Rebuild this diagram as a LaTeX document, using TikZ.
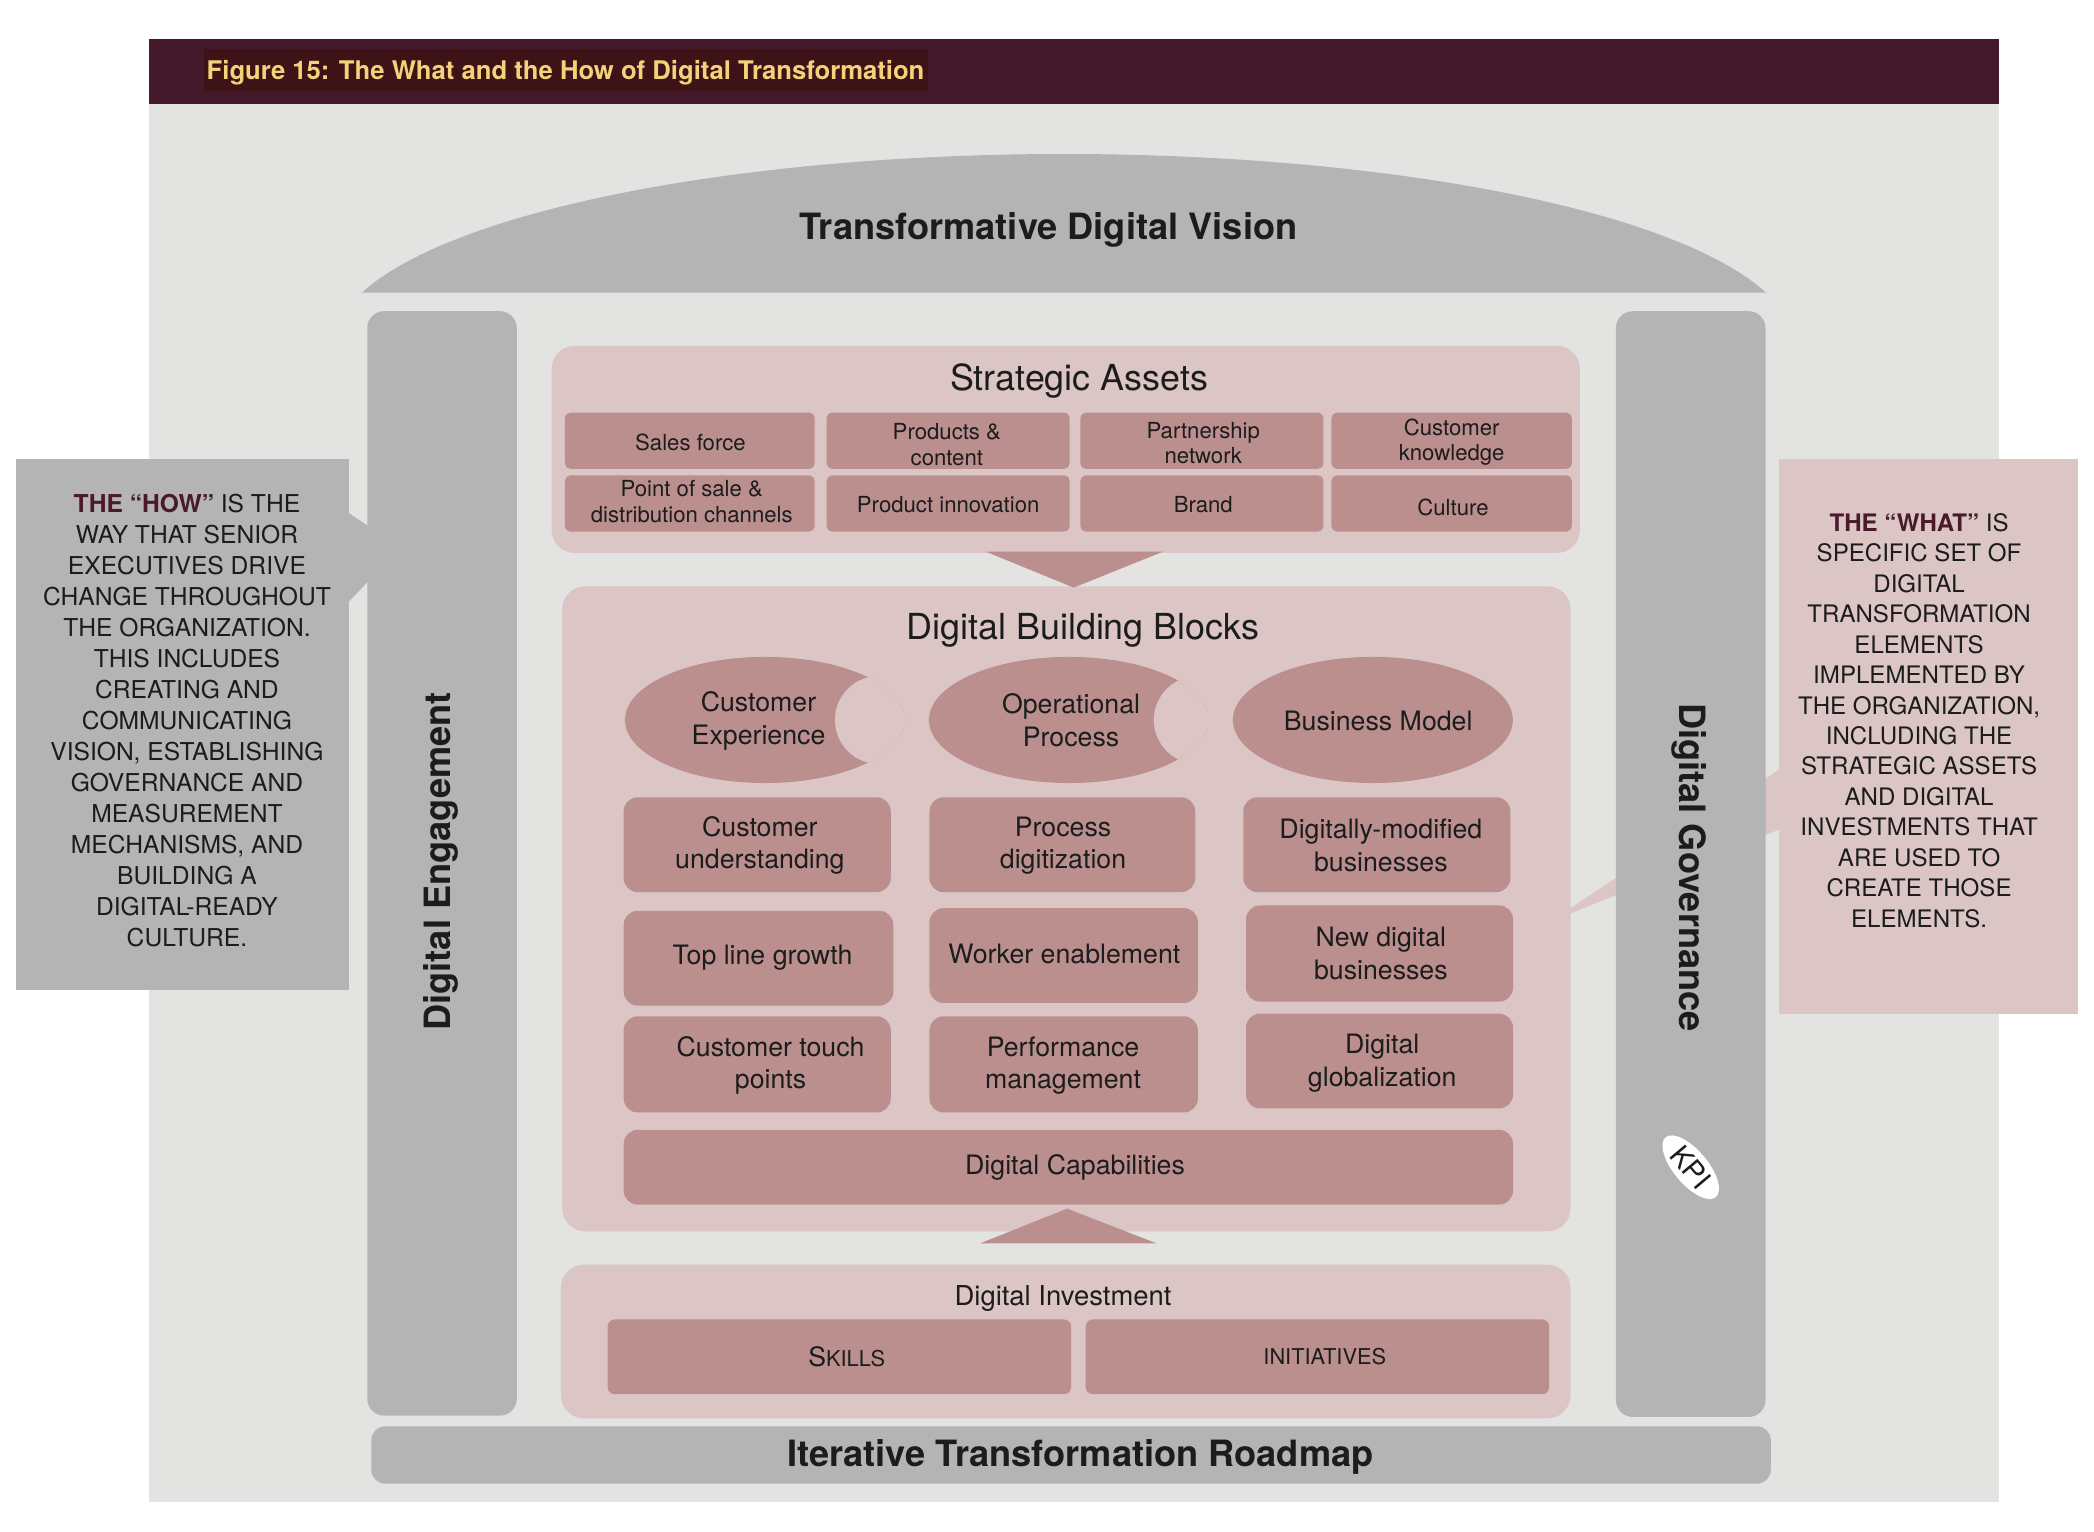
\documentclass[tikz,border=0pt]{standalone}
\usepackage{fontspec}
\setmainfont{TeX Gyre Heros}
\usetikzlibrary{shapes.geometric,fit}
\definecolor{barbg}{HTML}{43192B}
\definecolor{titlehl}{HTML}{3E1318}
\definecolor{gold}{HTML}{F5D27A}
\definecolor{panel}{HTML}{E3E3E2}
\definecolor{gbar}{HTML}{B4B4B4}
\definecolor{pinkl}{HTML}{DBC6C5}
\definecolor{rose}{HTML}{BA8F8E}
\definecolor{ink}{HTML}{1C1C1C}
\definecolor{wine}{HTML}{4A1A2C}
\begin{document}
\begin{tikzpicture}[x=0.013355cm,y=-0.013355cm,
  container/.style={fill=pinkl, rounded corners=6.5pt, inner sep=0pt},
  graybar/.style={fill=gbar, rounded corners=4.8pt, inner sep=0pt},
  rosebox/.style={fill=rose, rounded corners=4pt, inner sep=0pt},
  assetbox/.style={fill=rose, rounded corners=1.5pt, inner sep=0pt},
  rosetext/.style={align=center, text=ink, inner sep=0pt, font=\fontsize{7.6}{9.2}\selectfont},
  assettext/.style={align=center, text=ink, inner sep=0pt, font=\fontsize{6.3}{7.2}\selectfont},
  elltext/.style={align=center, text=ink, inner sep=0pt, font=\fontsize{7.6}{9.4}\selectfont},
  headbold/.style={text=ink, font=\bfseries\fontsize{10.3}{12}\selectfont},
  headreg/.style={text=ink, font=\fontsize{10.2}{12}\selectfont},
  calltext/.style={align=center, text=ink, font=\fontsize{7}{8.8}\selectfont},
  calloutbox/.style={inner sep=0pt},
  tri/.style={fill=rose}
]
\useasboundingbox (0,0) rectangle (1568,1147);
% frame
\fill[barbg] (111.5,29.5) rectangle (1497,78);
\fill[panel] (111.5,78) rectangle (1497,1125);
\node[fill=titlehl, inner sep=0pt, fit={(152.4,36.9) (694.9,67.9)}] (titlehl) {};
\node[text=gold, font=\bfseries\fontsize{7.3}{9}\selectfont, anchor=base] (title) at (423.5,59.2) {Figure 15: The What and the How of Digital Transformation};
% vision dome
\fill[gbar] plot[domain=15.9:164.1, samples=90] ({796.7+546.6*cos(\x)}, {258.3-143*sin(\x)}) -- cycle;
\node[headbold] (vision) at (785,172) {Transformative Digital Vision};
% callout pointers (behind)
\fill[pinkl] (1340,571) -- (1161,690) -- (1340,618) -- cycle;
\fill[gbar] (255,380) -- (276,394) -- (276,435) -- (255,457) -- cycle;
% callouts
\node[calloutbox, fill=gbar, fit={(12,344) (261,741)}] (howbox) {};
\node[calltext] (howtext) at (140,539.5) {{\bfseries\color{wine}THE “HOW”} IS THE\\
WAY THAT SENIOR\\
EXECUTIVES DRIVE\\
CHANGE THROUGHOUT\\
THE ORGANIZATION.\\
THIS INCLUDES\\
CREATING AND\\
COMMUNICATING\\
VISION, ESTABLISHING\\
GOVERNANCE AND\\
MEASUREMENT\\
MECHANISMS, AND\\
BUILDING A\\
DIGITAL-READY\\
CULTURE.};
\node[calloutbox, fill=pinkl, fit={(1332,344) (1556,759)}] (whatbox) {};
\node[calltext, font=\fontsize{6.85}{8.67}\selectfont] (whattext) at (1437,539.5) {{\bfseries\color{wine}THE “WHAT”} IS\\
SPECIFIC SET OF\\
DIGITAL\\
TRANSFORMATION\\
ELEMENTS\\
IMPLEMENTED BY\\
THE ORGANIZATION,\\
INCLUDING THE\\
STRATEGIC ASSETS\\
AND DIGITAL\\
INVESTMENTS THAT\\
ARE USED TO\\
CREATE THOSE\\
ELEMENTS.};
% side bars
\node[graybar, fit={(275,233) (387,1060)}] (engbar) {};
\node[headbold, rotate=90] (eng) at (330,645) {Digital Engagement};
\node[graybar, fit={(1210,233) (1322,1061)}] (govbar) {};
\node[headbold, rotate=-90] (gov) at (1265,649.5) {Digital Governance};
\node[ellipse, fill=white, inner sep=0pt, minimum width=0.78cm, minimum height=0.34cm, rotate=-50, text=ink, font=\fontsize{8}{10}\selectfont] (kpi) at (1266,874) {KPI};
\node[graybar, rounded corners=4pt, fit={(278,1068) (1326,1111)}] (roadbar) {};
\node[headbold] (road) at (809,1091) {Iterative Transformation Roadmap};
% strategic assets
\node[container, fit={(413,259) (1183,414)}] (sa) {};
\node[headreg] (satitle) at (808,285) {Strategic Assets};
\node[assetbox, fit={(423,309) (610,351)}] (a1) {};
\node[assetbox, fit={(619,309) (801,351)}] (a2) {};
\node[assetbox, fit={(809,309) (991,351)}] (a3) {};
\node[assetbox, fit={(997,309) (1177,351)}] (a4) {};
\node[assetbox, fit={(423,356) (610,398)}] (a5) {};
\node[assetbox, fit={(619,356) (801,398)}] (a6) {};
\node[assetbox, fit={(809,356) (991,398)}] (a7) {};
\node[assetbox, fit={(997,356) (1177,398)}] (a8) {};
\node[assettext] (a1t) at (517,331) {Sales force};
\node[assettext] (a2t) at (709,333) {Products \&\\content};
\node[assettext] (a3t) at (901,332) {Partnership\\network};
\node[assettext] (a4t) at (1087,331) {Customer\\knowledge};
\node[assettext] (a5t) at (518,375.5) {Point of sale \&\\distribution channels};
\node[assettext] (a6t) at (710,378) {Product innovation};
\node[assettext] (a7t) at (901,378) {Brand};
\node[assettext] (a8t) at (1088,380) {Culture};
% digital building blocks
\node[container, fit={(421,439) (1176,922)}] (dbb) {};
\fill[tri] (738,413) -- (871,413) -- (804,440) -- cycle;
\node[headreg] (dbbtitle) at (811,472) {Digital Building Blocks};
\begin{scope}
\clip (572.8,539.1) ellipse [x radius=1.3996cm, y radius=0.6304cm];
\fill[rose] (572.8,539.1) ellipse [x radius=1.3996cm, y radius=0.6304cm];
\fill[pinkl] (658.2,539.1) circle [radius=0.4407cm];
\end{scope}
\begin{scope}
\clip (800.4,539.1) ellipse [x radius=1.3996cm, y radius=0.6304cm];
\fill[rose] (800.4,539.1) ellipse [x radius=1.3996cm, y radius=0.6304cm];
\fill[pinkl] (897,539.1) circle [radius=0.4407cm];
\end{scope}
\fill[rose] (1028,539.1) ellipse [x radius=1.3996cm, y radius=0.6304cm];
\node[elltext] (cet) at (568,539.5) {Customer\\Experience};
\node[elltext] (opt) at (802,539.5) {Operational\\Process};
\node[elltext] (bmt) at (1032,539.5) {Business Model};
\node[rosebox, fit={(467,597) (667,668)}] (b11) {};
\node[rosebox, fit={(696,597) (895,668)}] (b12) {};
\node[rosebox, fit={(931,597) (1131,668)}] (b13) {};
\node[rosebox, fit={(467,682) (669,753)}] (b21) {};
\node[rosebox, fit={(696,680) (897,751)}] (b22) {};
\node[rosebox, fit={(933,678) (1133,750)}] (b23) {};
\node[rosebox, fit={(467,761) (667,833)}] (b31) {};
\node[rosebox, fit={(696,761) (897,833)}] (b32) {};
\node[rosebox, fit={(933,759) (1133,830)}] (b33) {};
\node[rosebox, fit={(467,846) (1133,902)}] (cap) {};
\node[rosetext] (t11) at (569,633) {Customer\\understanding};
\node[rosetext] (t12) at (796,633) {Process\\digitization};
\node[rosetext] (t13) at (1034,633) {Digitally-modified\\businesses};
\node[rosetext] (t21) at (571,717) {Top line growth};
\node[rosetext] (t22) at (797,714) {Worker enablement};
\node[rosetext] (t23) at (1034,714) {New digital\\businesses};
\node[rosetext] (t31) at (577,798) {Customer touch\\points};
\node[rosetext] (t32) at (796,798) {Performance\\management};
\node[rosetext] (t33) at (1035,796) {Digital\\globalization};
\node[rosetext] (capt) at (805,874) {Digital Capabilities};
\fill[tri] (734,931) -- (866,931) -- (799,905) -- cycle;
% digital investment
\node[container, fit={(420,947) (1176,1062)}] (di) {};
\node[text=ink, font=\fontsize{7.8}{9}\selectfont] (dititle) at (796,972) {Digital Investment};
\node[rosebox, rounded corners=2pt, fit={(455,988) (802,1044)}] (skills) {};
\node[rosebox, rounded corners=2pt, fit={(813,988) (1160,1044)}] (init) {};
\node[rosetext] (skillst) at (634,1016) {S{\fontsize{6.2}{8}\selectfont KILLS}};
\node[rosetext] (initt) at (992,1016) {{\fontsize{6.2}{8}\selectfont INITIATIVES}};
\end{tikzpicture}
\end{document}
